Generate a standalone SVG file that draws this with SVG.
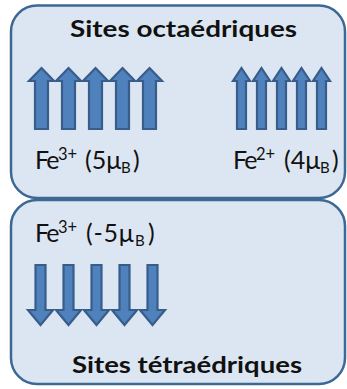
<svg xmlns="http://www.w3.org/2000/svg" width="347" height="389" viewBox="0 0 347 389">
<defs>
<style>
.box{fill:#dce6f2;stroke:#3d6894;stroke-width:2.5}
.arr{fill:#4f81bd;stroke:#385d8a;stroke-width:2.2;stroke-linejoin:miter}
.t{font-family:Lato,"Open Sans","Liberation Sans",sans-serif;fill:#111}
.h{font-size:23px;font-weight:bold}
.n{font-size:25px}
.fe{letter-spacing:-1.8px}
.s{font-size:16.5px}
.b{font-size:15px}
</style>
<polygon id="upL" points="0,-61 12.5,-48 6.5,-48 6.5,0 -6.5,0 -6.5,-48 -12.5,-48"/>
<polygon id="upR" points="0,-61 8.5,-48 4.5,-48 4.5,0 -4.5,0 -4.5,-48 -8.5,-48"/>
<polygon id="dn" points="0,60 12.5,45 5,45 5,0 -5,0 -5,45 -12.5,45"/>
</defs>
<g id="octa">
<rect class="box" x="11" y="5.5" width="334" height="192.5" rx="26" ry="26"/>
<text class="t h" x="183.5" y="37" text-anchor="middle" textLength="227" lengthAdjust="spacingAndGlyphs">Sites octaédriques</text>
<g id="fe3-oct-arrows" class="arr">
<use href="#upL" x="41.5" y="129"/>
<use href="#upL" x="68.5" y="129"/>
<use href="#upL" x="95.5" y="129"/>
<use href="#upL" x="122.5" y="129"/>
<use href="#upL" x="149.5" y="129"/>
</g>
<g id="fe2-oct-arrows" class="arr">
<use href="#upR" x="241.5" y="129"/>
<use href="#upR" x="261.5" y="129"/>
<use href="#upR" x="281.5" y="129"/>
<use href="#upR" x="301.5" y="129"/>
<use href="#upR" x="321.5" y="129"/>
</g>
<text id="label-fe3-oct" class="t n"><tspan class="fe" x="35" y="168.5">Fe</tspan><tspan class="s" x="58" y="159.5">3+</tspan><tspan x="85" y="168.5">(5μ</tspan><tspan class="b" x="121" y="172.5">B</tspan><tspan x="133" y="168.5">)</tspan></text>
<text id="label-fe2-oct" class="t n"><tspan class="fe" x="233" y="168.5">Fe</tspan><tspan class="s" x="256" y="159.5">2+</tspan><tspan x="284" y="168.5">(4μ</tspan><tspan class="b" x="320" y="172.5">B</tspan><tspan x="332" y="168.5">)</tspan></text>
</g>
<g id="tetra">
<rect class="box" x="11" y="200" width="334" height="184" rx="26" ry="26"/>
<text id="label-fe3-tet" class="t n"><tspan class="fe" x="35" y="242">Fe</tspan><tspan class="s" x="58" y="233">3+</tspan><tspan x="86" y="242" letter-spacing="0.8">(-5μ</tspan><tspan class="b" x="135" y="246">B</tspan><tspan x="148" y="242">)</tspan></text>
<g id="fe3-tet-arrows" class="arr">
<use href="#dn" x="40.5" y="265"/>
<use href="#dn" x="68.5" y="265"/>
<use href="#dn" x="96.5" y="265"/>
<use href="#dn" x="124.5" y="265"/>
<use href="#dn" x="152.5" y="265"/>
</g>
<text class="t h" x="187" y="373" text-anchor="middle" textLength="230" lengthAdjust="spacingAndGlyphs">Sites tétraédriques</text>
</g>
<g id="connectors"/>
</svg>
